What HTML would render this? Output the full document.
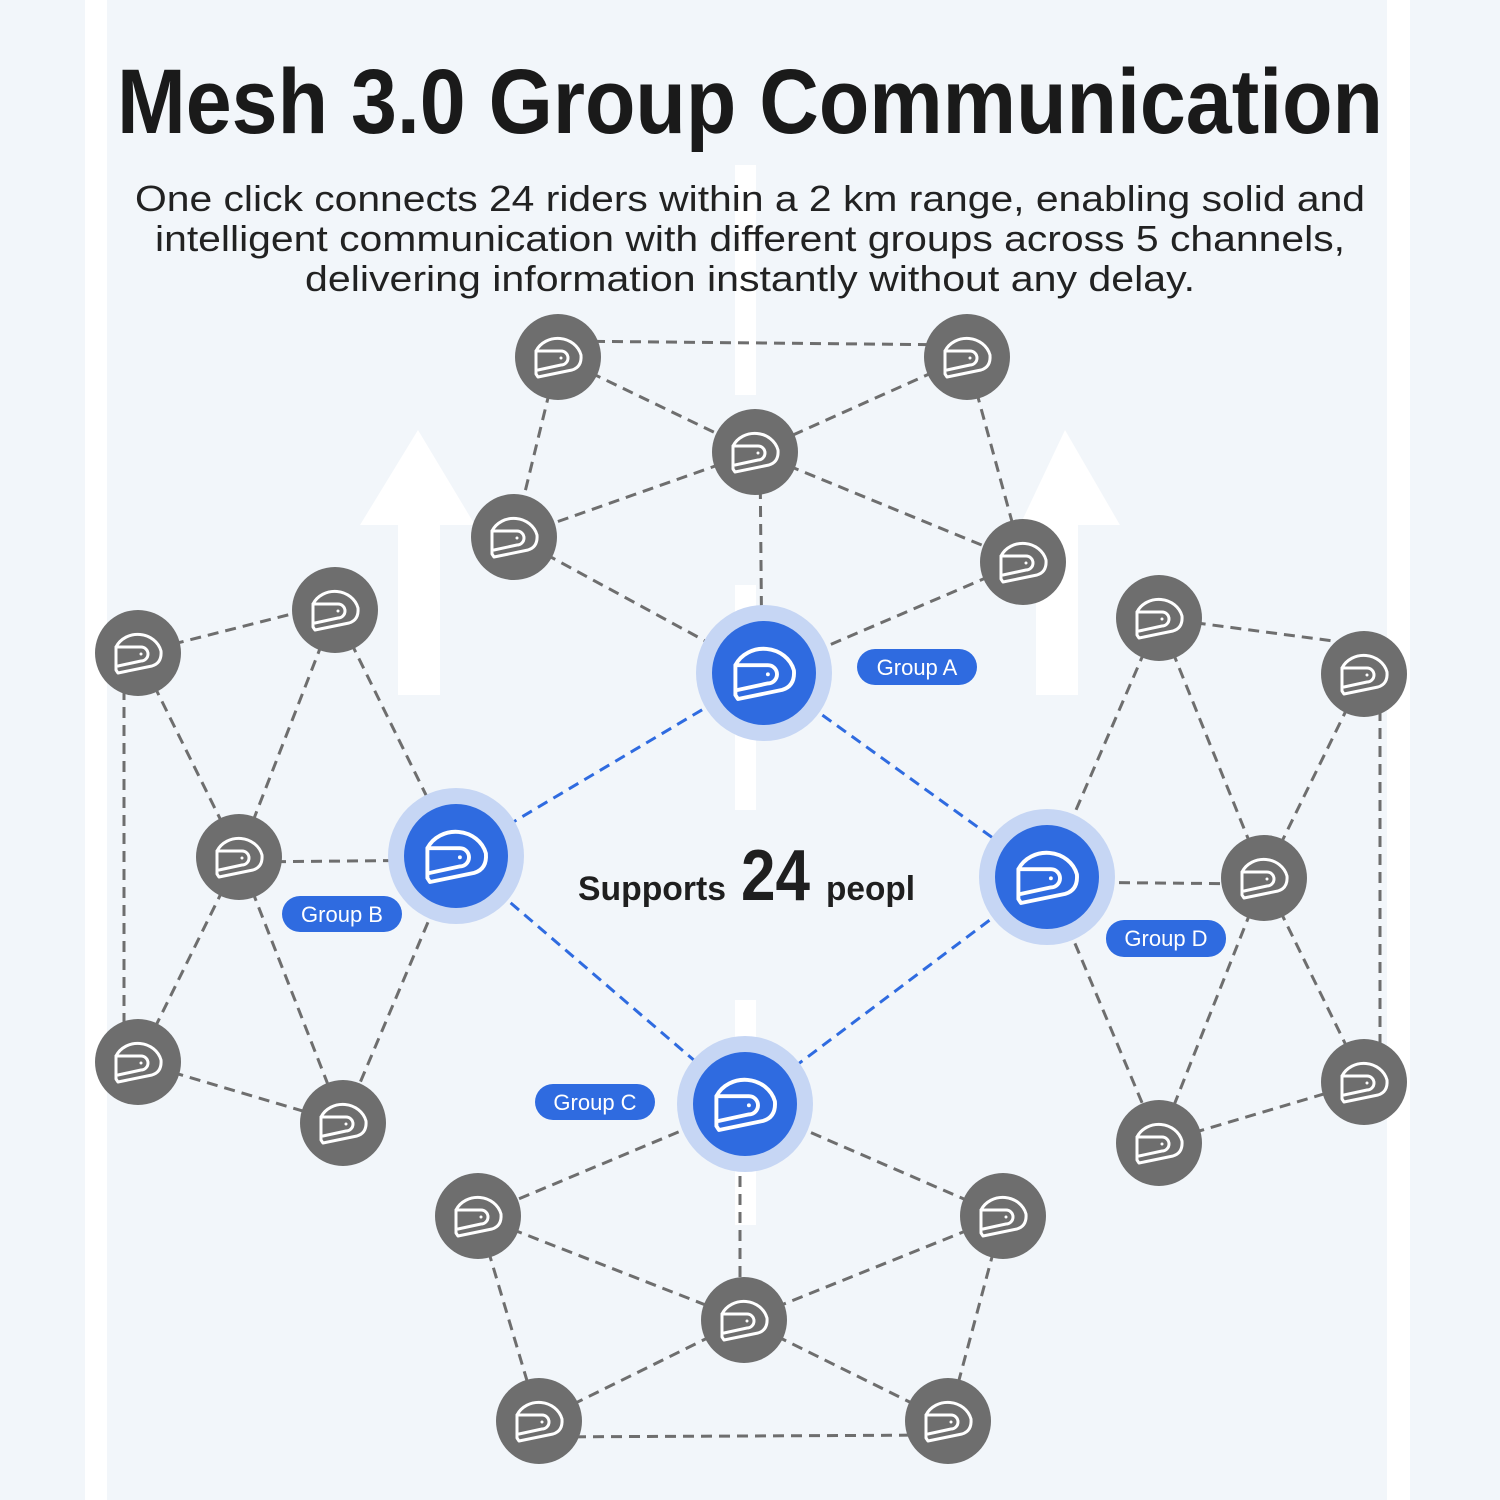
<!DOCTYPE html>
<html><head><meta charset="utf-8"><style>html,body{margin:0;padding:0;background:#f2f6fa}svg{display:block}</style></head>
<body>
<svg width="1500" height="1500" viewBox="0 0 1500 1500" xmlns="http://www.w3.org/2000/svg" font-family="Liberation Sans, sans-serif">
<defs>
<g id="h" fill="none" stroke="#fff" stroke-width="3" stroke-linecap="round" stroke-linejoin="round">
<path d="M-22 17 V-6 A24 22 0 0 1 23 -2 Q24 10 14 13 L-20 20 Z"/>
<path d="M-22 -6 H3 A7 7 0 0 1 3 8 L-20 13"/>
<circle cx="3" cy="1" r="1.5" fill="#fff" stroke="none"/>
</g>
<g id="g"><circle r="43" fill="#6e6e6e"/><use href="#h"/></g>
<g id="b"><circle r="68" fill="#c6d6f4"/><circle r="52" fill="#2f6be0"/><use href="#h" transform="scale(1.3)"/></g>
</defs>
<rect width="1500" height="1500" fill="#f2f6fa"/>
<rect x="85" y="0" width="22" height="1500" fill="#fff"/>
<rect x="1387" y="0" width="23" height="1500" fill="#fff"/>
<g fill="#fff">
<rect x="735" y="165" width="21" height="230"/>
<rect x="735" y="585" width="21" height="225"/>
<rect x="735" y="1000" width="21" height="225"/>
<polygon points="418,430 475,525 440,525 440,695 398,695 398,525 360,525"/>
<polygon points="1065,430 1120,525 1078,525 1078,695 1036,695 1036,525 1020,525"/>
</g>
<text x="750" y="133" text-anchor="middle" font-size="92" font-weight="bold" fill="#1a1a1a" textLength="1266" lengthAdjust="spacingAndGlyphs">Mesh 3.0 Group Communication</text>
<g font-size="36" fill="#222" text-anchor="middle">
<text x="750" y="211" textLength="1230" lengthAdjust="spacingAndGlyphs">One click connects 24 riders within a 2 km range, enabling solid and</text>
<text x="750" y="251" textLength="1190" lengthAdjust="spacingAndGlyphs">intelligent communication with different groups across 5 channels,</text>
<text x="750" y="291" textLength="890" lengthAdjust="spacingAndGlyphs">delivering information instantly without any delay.</text>
</g>
<g stroke="#6e6e6e" stroke-width="3" stroke-dasharray="11 7" fill="none">
<!-- A -->
<line x1="558" y1="341" x2="967" y2="345"/><line x1="558" y1="357" x2="755" y2="452"/><line x1="967" y1="357" x2="755" y2="452"/>
<line x1="558" y1="357" x2="514" y2="537"/><line x1="967" y1="357" x2="1023" y2="562"/>
<line x1="755" y1="452" x2="514" y2="537"/><line x1="755" y1="452" x2="1023" y2="562"/>
<line x1="760" y1="452" x2="762" y2="673"/><line x1="514" y1="537" x2="764" y2="673"/><line x1="1023" y1="562" x2="764" y2="673"/>
<!-- B -->
<line x1="138" y1="653" x2="335" y2="603"/><line x1="124" y1="653" x2="124" y2="1062"/>
<line x1="138" y1="653" x2="239" y2="857"/><line x1="335" y1="610" x2="239" y2="857"/><line x1="335" y1="610" x2="456" y2="856"/>
<line x1="239" y1="862" x2="456" y2="860"/><line x1="239" y1="857" x2="138" y2="1062"/><line x1="239" y1="857" x2="343" y2="1123"/>
<line x1="138" y1="1062" x2="343" y2="1123"/><line x1="456" y1="856" x2="343" y2="1123"/>
<!-- C -->
<line x1="745" y1="1104" x2="478" y2="1216"/><line x1="745" y1="1104" x2="1003" y2="1216"/><line x1="740" y1="1104" x2="740" y2="1320"/>
<line x1="478" y1="1216" x2="744" y2="1320"/><line x1="1003" y1="1216" x2="744" y2="1320"/>
<line x1="478" y1="1216" x2="539" y2="1421"/><line x1="1003" y1="1216" x2="948" y2="1421"/>
<line x1="539" y1="1437" x2="948" y2="1435"/><line x1="744" y1="1320" x2="539" y2="1421"/><line x1="744" y1="1320" x2="948" y2="1421"/>
<!-- D -->
<line x1="1159" y1="618" x2="1364" y2="645"/><line x1="1380" y1="674" x2="1380" y2="1082"/>
<line x1="1159" y1="618" x2="1047" y2="877"/><line x1="1159" y1="618" x2="1264" y2="878"/><line x1="1364" y1="674" x2="1264" y2="878"/>
<line x1="1047" y1="882" x2="1264" y2="884"/><line x1="1264" y1="878" x2="1364" y2="1082"/><line x1="1264" y1="878" x2="1159" y2="1143"/>
<line x1="1047" y1="877" x2="1159" y2="1143"/><line x1="1159" y1="1143" x2="1364" y2="1082"/>
</g>
<g stroke="#2f6be0" stroke-width="3" stroke-dasharray="11 7">
<line x1="764" y1="673" x2="456" y2="856"/><line x1="764" y1="673" x2="1047" y2="877"/>
<line x1="456" y1="856" x2="745" y2="1104"/><line x1="1047" y1="877" x2="745" y2="1104"/>
</g>
<g>
<use href="#g" x="558" y="357"/><use href="#g" x="967" y="357"/><use href="#g" x="755" y="452"/><use href="#g" x="514" y="537"/><use href="#g" x="1023" y="562"/>
<use href="#g" x="138" y="653"/><use href="#g" x="335" y="610"/><use href="#g" x="239" y="857"/><use href="#g" x="138" y="1062"/><use href="#g" x="343" y="1123"/>
<use href="#g" x="478" y="1216"/><use href="#g" x="1003" y="1216"/><use href="#g" x="744" y="1320"/><use href="#g" x="539" y="1421"/><use href="#g" x="948" y="1421"/>
<use href="#g" x="1159" y="618"/><use href="#g" x="1364" y="674"/><use href="#g" x="1264" y="878"/><use href="#g" x="1364" y="1082"/><use href="#g" x="1159" y="1143"/>
<use href="#b" x="764" y="673"/><use href="#b" x="456" y="856"/><use href="#b" x="745" y="1104"/><use href="#b" x="1047" y="877"/>
</g>
<g fill="#2f6be0">
<rect x="857" y="649" width="120" height="36" rx="18"/>
<rect x="282" y="896" width="120" height="36" rx="18"/>
<rect x="535" y="1084" width="120" height="36" rx="18"/>
<rect x="1106" y="920" width="120" height="37" rx="18"/>
</g>
<g fill="#fff" font-size="22" text-anchor="middle">
<text x="917" y="675">Group A</text>
<text x="342" y="922">Group B</text>
<text x="595" y="1110">Group C</text>
<text x="1166" y="946">Group D</text>
</g>
<g fill="#1f1f1f" font-weight="bold">
<text x="578" y="900" font-size="34" textLength="148" lengthAdjust="spacingAndGlyphs">Supports</text>
<text x="741" y="900" font-size="72" textLength="69" lengthAdjust="spacingAndGlyphs">24</text>
<text x="826" y="900" font-size="34" textLength="89" lengthAdjust="spacingAndGlyphs">peopl</text>
</g>
</svg>
</body></html>
